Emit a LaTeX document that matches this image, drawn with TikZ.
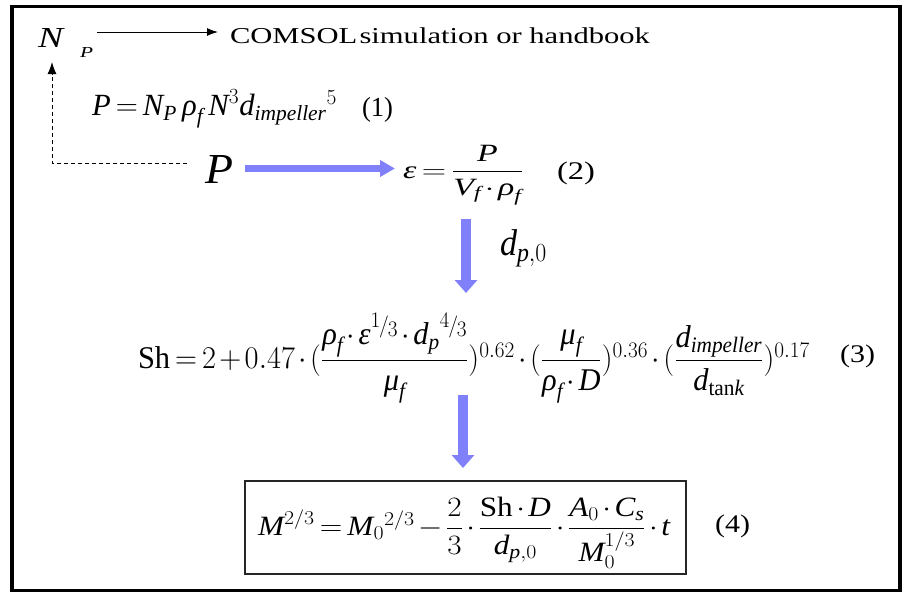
\RequirePackage{fix-cm}
\documentclass[tikz,border=0pt]{standalone}
\usepackage{graphicx}
\usepackage{amsmath}
\usepackage{fontspec}
\setmainfont{Liberation Serif}
\usetikzlibrary{arrows.meta}
\definecolor{flowblue}{RGB}{128,128,250}
\newcommand{\fs}[1]{\fontsize{#1}{#1}\selectfont}
\newcommand{\mv}[1]{\textit{#1}}
\newcommand{\third}[1]{\raisebox{5pt}{$\scriptstyle #1$}\mkern-1mu/\mkern-1mu\raisebox{-3pt}{$\scriptstyle 3$}}
\newcommand{\fitbox}[3]{\resizebox*{#1pt}{#2pt}{\fs{28}\medmuskip=2mu\thickmuskip=3mu #3}}
\begin{document}
\begin{tikzpicture}[x=1pt,y=-1pt,
  every node/.style={inner sep=0pt,outer sep=0pt},
  thinarrow/.style={line width=1pt,-{Latex[length=11pt,width=8pt]}},
  flowh/.style={draw=flowblue,line width=7pt,-{Triangle[length=15pt,width=16pt]}},
  flowv/.style={draw=flowblue,line width=10pt,-{Triangle[length=13pt,width=22pt]}},
  dashline/.style={line width=1pt,dash pattern=on 4pt off 3pt,-{Latex[length=12pt,width=9pt]}},
  eqbox/.style={draw=black!85,line width=1.5pt,minimum width=441pt,minimum height=93pt}]
\useasboundingbox (0,0) rectangle (902,592);
\draw[line width=3.5pt] (12,6.5) rectangle (900,590.5);

\node[anchor=north west] (np) at (38,28) {\fitbox{25}{19}{$\mv{N}$}\hspace{17pt}\raisebox{-10pt}{\fitbox{13}{10}{$\mv{P}$}}};
\node[anchor=north west] (comsol) at (230,28) {\fitbox{420}{16}{COMSOL\hspace{2pt}simulation or handbook}};
\node[anchor=north west] (eq1) at (92,90) {\fitbox{245}{38}{$\mv{P} = \mv{N}_{\mv{P}}\,\mv{ρ}_{\mv{f}}\,\mv{N}^{3}\mv{d}_{\mv{impeller}}{}^{5}$}};
\node[anchor=north west] (n1) at (362,97) {\fitbox{31}{25}{(1)}};
\node[anchor=north west] (bigP) at (205,155) {\fitbox{28}{28}{$\mv{P}$}};
\node[anchor=north west] (eq2) at (403,145) {\fitbox{120}{60}{$\mv{ε} = \dfrac{\mv{P}}{\mv{V}_{\mv{f}}\cdot\mv{ρ}_{\mv{f}}}$}};
\node[anchor=north west] (n2) at (557,162) {\fitbox{38}{23}{(2)}};
\node[anchor=north west] (dlab) at (500,230) {\fitbox{47}{37}{$\mv{d}_{\mv{p},0}$}};
\node[anchor=north west] (eq3) at (138,313) {\fitbox{672}{90}{$\mathrm{Sh} = 2 + 0.47\cdot(\dfrac{\mv{ρ}_{\mv{f}}\cdot\mv{ε}^{\third1}\cdot\mv{d}_{\mv{p}}{}^{\third4}}{\mv{μ}_{\mv{f}}})^{0.62}\cdot(\dfrac{\mv{μ}_{\mv{f}}}{\mv{ρ}_{\mv{f}}\cdot\mv{D}})^{0.36}\cdot(\dfrac{\mv{d}_{\mv{impeller}}}{\mv{d}_{\mathrm{tan}\mv{k}}})^{0.17}$}};
\node[anchor=north west] (n3) at (840,345) {\fitbox{35}{23}{(3)}};
\node[eqbox] (eq4) at (465.5,527.5) {};
\node (eq4t) at (464,532.5) {\fitbox{412}{71}{$\mv{M}^{2/3} = \mv{M}_0{}^{2/3} - \dfrac{2}{3}\cdot\dfrac{\mathrm{Sh}\cdot\mv{D}}{\mv{d}_{\mv{p},0}}\cdot\dfrac{\mv{A}_0\cdot\mv{C}_{\mv{s}}}{\mv{M}_0^{1/3}}\cdot\mv{t}$}};
\node[anchor=north west] (n4) at (715,515) {\fitbox{35}{23}{(4)}};

\coordinate (yTop) at (0,32);
\coordinate (yDash) at (0,163);
\coordinate (npfoot) at (52,62);
\coordinate (yFlow) at (0,168.5);
\coordinate (colA) at (466,0);
\coordinate (colB) at (463,0);

\draw[thinarrow,shorten <=4pt,shorten >=12pt] (np.east |- yTop) -- (comsol.west |- yTop);
\draw[dashline,shorten <=18pt] (bigP.west |- yDash) -| (npfoot);
\draw[flowh,shorten <=12pt,shorten >=8pt] (bigP.east |- yFlow) -- (eq2.west |- yFlow);
\draw[flowv,shorten <=14pt,shorten >=20pt] (eq2.south -| colA) -- (eq3.north -| colA);
\draw[flowv,shorten <=-8pt,shorten >=13pt] (eq3.south -| colB) -- (eq4.north -| colB);
\end{tikzpicture}
\end{document}
